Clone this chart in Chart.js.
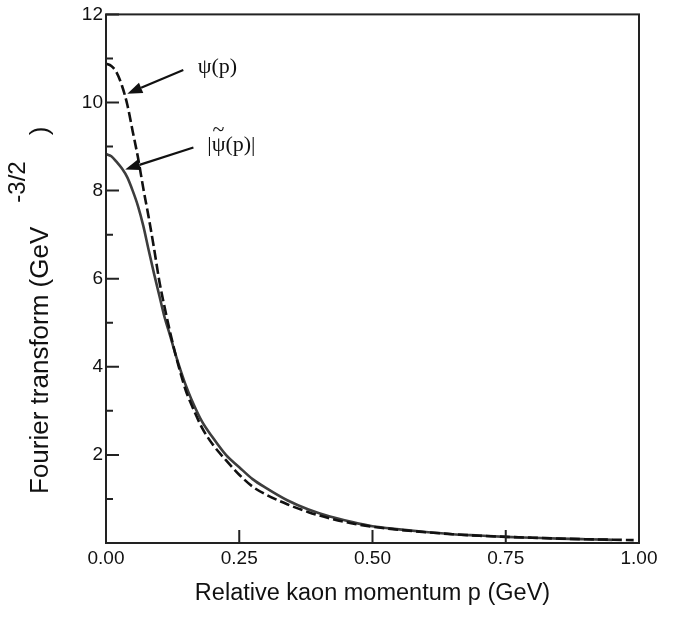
<!DOCTYPE html>
<html><head><meta charset="utf-8">
<script src="https://cdn.jsdelivr.net/npm/chart.js@4"></script>
<style>html,body{margin:0;padding:0;background:#fff}#wrap{width:681px;height:618px}</style>
</head><body><div id="wrap"><canvas id="c" width="681" height="618"></canvas></div>
<script>
// Relative kaon momentum p (GeV)
const momentum = [0,0.01,0.02,0.03,0.04,0.05,0.06,0.07,0.08,0.09,0.10,0.11,0.12,0.13,0.14,0.15,0.16,0.18,0.20,0.225,0.25,0.275,0.30,0.34,0.38,0.42,0.46,0.50,0.55,0.60,0.65,0.70,0.75,0.80,0.85,0.90,0.95,0.99];
// psi(p) (dashed)
const psiValues = [10.88,10.83,10.68,10.38,9.95,9.35,8.75,8.05,7.4,6.7,5.95,5.35,4.8,4.3,3.85,3.45,3.15,2.62,2.24,1.88,1.55,1.28,1.1,0.88,0.7,0.56,0.45,0.37,0.3,0.245,0.2,0.165,0.14,0.12,0.1,0.085,0.075,0.066];
// |psi~(p)| (solid)
const momentumTilde = [0,0.01,0.02,0.03,0.04,0.05,0.06,0.07,0.08,0.09,0.10,0.11,0.12,0.13,0.14,0.15,0.16,0.18,0.20,0.225,0.25,0.275,0.30,0.34,0.38,0.42,0.46,0.50,0.55,0.60,0.65,0.70,0.75,0.80,0.85,0.90,0.95];
const psiTildeValues = [8.83,8.78,8.65,8.5,8.3,8.0,7.65,7.2,6.65,6.12,5.62,5.12,4.72,4.3,3.92,3.57,3.27,2.76,2.4,2.0,1.72,1.45,1.25,0.97,0.76,0.6,0.48,0.38,0.31,0.25,0.2,0.17,0.14,0.12,0.1,0.085,0.072];

const xTickValues = [0, 0.25, 0.5, 0.75, 1.0];
const yTickValues = [2, 4, 6, 8, 10, 12];
const yMinorTickValues = [1, 3, 5, 7, 9, 11];

// annotation anchors in data coordinates: [p, value]
const psiLabelAt = [0.172, 10.67];
const psiArrowFrom = [0.145, 10.74];
const psiArrowTo = [0.04, 10.2];
const tildeLabelAt = [0.19, 8.9];
const tildeArrowFrom = [0.164, 8.98];
const tildeArrowTo = [0.036, 8.48];

const toXY = (xs, ys) => xs.map((x, i) => ({x: x, y: ys[i]}));

function arrow(ctx, x1, y1, x2, y2) {
  const ang = Math.atan2(y2 - y1, x2 - x1);
  const hl = 15, hw = 5.5;
  const bx = x2 - hl * Math.cos(ang), by = y2 - hl * Math.sin(ang);
  ctx.beginPath();
  ctx.moveTo(x1, y1); ctx.lineTo(bx, by);
  ctx.lineWidth = 2.2; ctx.strokeStyle = '#111'; ctx.stroke();
  ctx.beginPath();
  ctx.moveTo(x2, y2);
  ctx.lineTo(bx + hw * Math.sin(ang), by - hw * Math.cos(ang));
  ctx.lineTo(bx - hw * Math.sin(ang), by + hw * Math.cos(ang));
  ctx.closePath(); ctx.fillStyle = '#111'; ctx.fill();
}

const decor = {
  id: 'decor',
  afterDraw(chart) {
    const ctx = chart.ctx, a = chart.chartArea;
    const xs = chart.scales.x, ys = chart.scales.y;
    ctx.save();
    ctx.strokeStyle = '#222'; ctx.lineWidth = 2;
    ctx.strokeRect(a.left, a.top, a.right - a.left, a.bottom - a.top);
    ctx.lineWidth = 2;
    ctx.beginPath();
    yTickValues.forEach(v => { const y = ys.getPixelForValue(v); ctx.moveTo(a.left, y); ctx.lineTo(a.left + 13, y); });
    yMinorTickValues.forEach(v => { const y = ys.getPixelForValue(v); ctx.moveTo(a.left, y); ctx.lineTo(a.left + 7, y); });
    xTickValues.forEach(v => { const x = xs.getPixelForValue(v); ctx.moveTo(x, a.bottom); ctx.lineTo(x, a.bottom - 13); });
    ctx.stroke();

    // axis titles
    ctx.fillStyle = '#111';
    ctx.font = '23.5px "Liberation Sans", Arial, sans-serif';
    ctx.textAlign = 'center'; ctx.textBaseline = 'alphabetic';
    ctx.fillText('Relative kaon momentum p (GeV)', (a.left + a.right) / 2, 600);
    ctx.save();
    ctx.translate(48, 0);
    ctx.rotate(-Math.PI / 2);
    ctx.textAlign = 'left';
    ctx.font = '26px "Liberation Sans", Arial, sans-serif';
    const main = 'Fourier transform (GeV';
    const startY = 494;
    ctx.fillText(main, -startY, 0);
    const w = ctx.measureText(main).width;
    ctx.font = '24px "Liberation Sans", Arial, sans-serif';
    ctx.fillText('-3/2', -startY + w + 24, -23);
    const w2 = ctx.measureText('-3/2').width;
    ctx.font = '26px "Liberation Sans", Arial, sans-serif';
    ctx.fillText(')', -startY + w + 24 + w2 + 26, 0);
    ctx.restore();

    // annotations
    const px = p => [xs.getPixelForValue(p[0]), ys.getPixelForValue(p[1])];
    let f = px(psiArrowFrom), t = px(psiArrowTo);
    arrow(ctx, f[0], f[1], t[0], t[1]);
    f = px(tildeArrowFrom); t = px(tildeArrowTo);
    arrow(ctx, f[0], f[1], t[0], t[1]);
    ctx.fillStyle = '#111';
    ctx.font = '22px "Liberation Serif", "Times New Roman", serif';
    ctx.textAlign = 'left'; ctx.textBaseline = 'alphabetic';
    let l = px(psiLabelAt);
    ctx.fillText('\u03C8(p)', l[0], l[1]);
    l = px(tildeLabelAt);
    ctx.fillText('|\u03C8(p)|', l[0], l[1]);
    const wBar = ctx.measureText('|').width, wPsi = ctx.measureText('\u03C8').width;
    ctx.textAlign = 'center';
    ctx.fillText('~', l[0] + wBar + wPsi / 2, l[1] - 15);
    ctx.restore();
  }
};

new Chart(document.getElementById('c'), {
  type: 'line',
  data: {
    datasets: [
      { label: 'psi(p)', data: toXY(momentum, psiValues), borderColor: '#111', borderWidth: 2.6, borderDash: [10, 4], pointRadius: 0, cubicInterpolationMode: 'monotone', fill: false },
      { label: '|psi~(p)|', data: toXY(momentumTilde, psiTildeValues), borderColor: '#3d3d3d', borderWidth: 2.6, pointRadius: 0, cubicInterpolationMode: 'monotone', fill: false }
    ]
  },
  options: {
    responsive: false, animation: false,
    layout: { padding: { top: 11, right: 42, left: 0, bottom: 0 } },
    plugins: { legend: { display: false }, tooltip: { enabled: false } },
    scales: {
      x: {
        type: 'linear', min: 0, max: 1,
        afterBuildTicks: s => { s.ticks = xTickValues.map(v => ({value: v})); },
        afterFit: s => { s.height = 75; },
        grid: { display: false, drawTicks: false }, border: { display: false },
        ticks: { padding: 4, color: '#111', font: { family: '"Liberation Sans", Arial, sans-serif', size: 19 }, callback: v => Number(v).toFixed(2), maxRotation: 0 }
      },
      y: {
        type: 'linear', min: 0, max: 12,
        afterBuildTicks: s => { s.ticks = yTickValues.map(v => ({value: v})); },
        afterFit: s => { s.width = 106; },
        grid: { display: false, drawTicks: false }, border: { display: false },
        ticks: { padding: 3, color: '#111', font: { family: '"Liberation Sans", Arial, sans-serif', size: 19 }, callback: v => String(v) }
      }
    }
  },
  plugins: [decor]
});
</script>
</body></html>
